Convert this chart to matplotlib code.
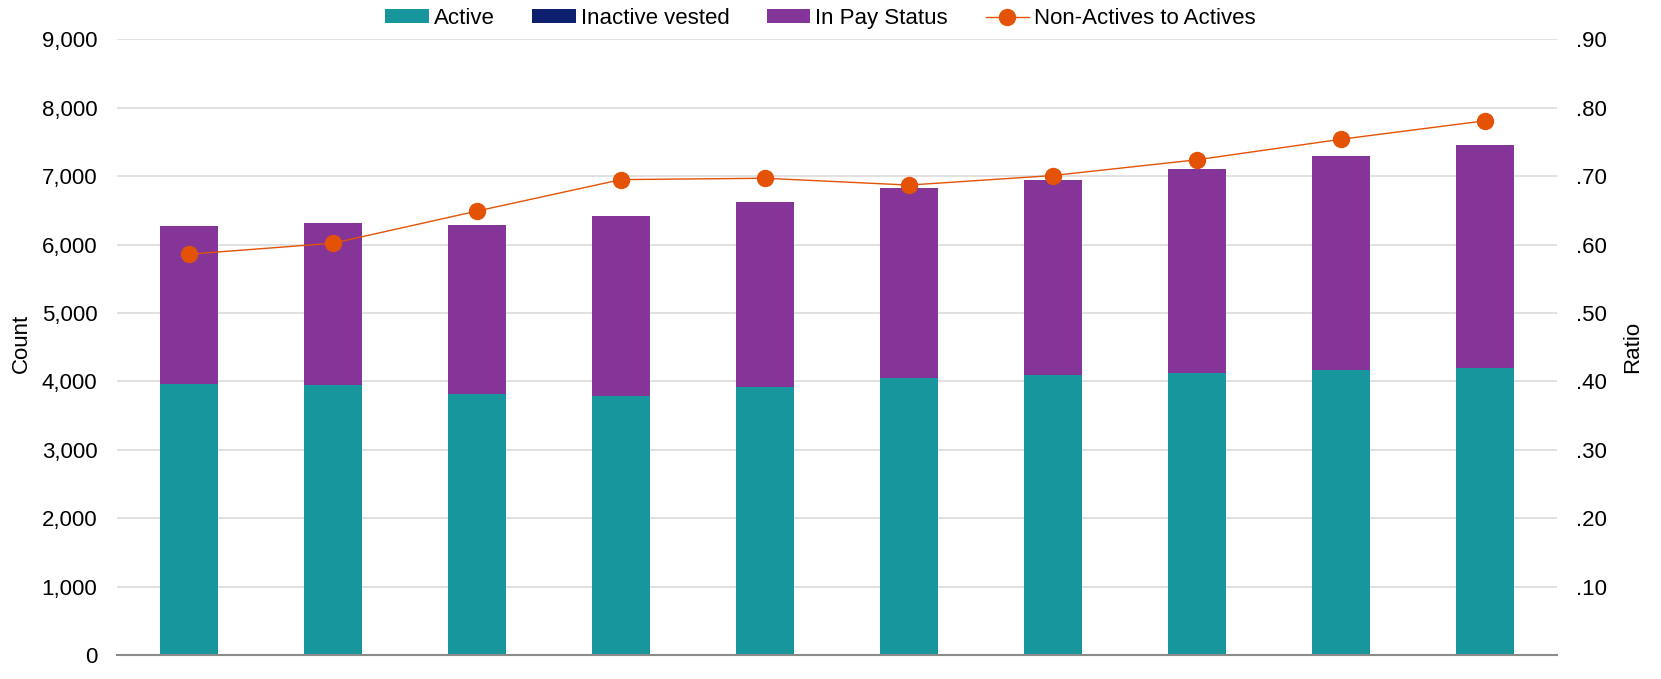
import matplotlib
matplotlib.use("Agg")
import matplotlib.pyplot as plt
from matplotlib.ticker import FuncFormatter, FixedLocator
from matplotlib.lines import Line2D
from matplotlib.patches import Patch

plt.rcParams['font.family'] = ['Liberation Sans', 'DejaVu Sans']

categories = [str(i) for i in range(1, 11)]
active = [3957, 3942, 3815, 3786, 3918, 4045, 4088, 4122, 4162, 4191]
inactive_vested = [0, 0, 0, 0, 0, 0, 0, 0, 0, 0]
in_pay = [2314, 2373, 2475, 2631, 2708, 2777, 2851, 2978, 3132, 3264]
ratio = [0.586, 0.602, 0.649, 0.695, 0.697, 0.687, 0.701, 0.724, 0.754, 0.781]

c_active = '#17979D'
c_inactive = '#0D1F6E'
c_pay = '#843597'
c_line = '#E35205'

fig = plt.figure(figsize=(16.61, 6.79), dpi=100)
ax = fig.add_axes([0.0704, 0.0353, 0.8670, 0.9067])
x = list(range(len(categories)))
w = 0.4
ax.bar(x, active, w, color=c_active, zorder=2)
b2 = [a for a in active]
ax.bar(x, inactive_vested, w, bottom=b2, color=c_inactive, zorder=2)
b3 = [a + i for a, i in zip(active, inactive_vested)]
ax.bar(x, in_pay, w, bottom=b3, color=c_pay, zorder=2)

ax.set_xlim(-0.5, len(categories) - 0.5)
ax.set_ylim(0, 9000)
ax.set_yticks(range(0, 9001, 1000))
ax.yaxis.set_major_formatter(FuncFormatter(lambda v, p: f"{int(v):,}"))
ax.set_xticks([])
ax.grid(axis='y', color='#DEDEDE', linewidth=1.3, zorder=0)
ax.set_axisbelow(True)
for s in ['top', 'right', 'left']:
    ax.spines[s].set_visible(False)
ax.spines['bottom'].set_color('#8C8C8C')
ax.spines['bottom'].set_linewidth(1.5)
ax.tick_params(axis='y', length=0, labelsize=16, pad=14, colors='#000000')

ax2 = ax.twinx()
ax2.plot(x, ratio, color=c_line, linewidth=1.0, marker='o', markersize=11.5, zorder=3)
ax2.set_ylim(0, 0.9)
ax2.yaxis.set_major_locator(FixedLocator([0.1 * i for i in range(1, 10)]))
ax2.yaxis.set_major_formatter(FuncFormatter(lambda v, p: f"{v:.2f}".lstrip('0')))
for s in ['top', 'right', 'left', 'bottom']:
    ax2.spines[s].set_visible(False)
ax2.tick_params(axis='y', length=0, labelsize=16, pad=14)

fig.text(0.0126, 0.4948, 'Count', rotation=90, ha='center', va='center', fontsize=16)
fig.text(0.9832, 0.489, 'Ratio', rotation=90, ha='center', va='center', fontsize=16)

handles = [
    Patch(facecolor=c_active, label='Active'),
    Patch(facecolor=c_inactive, label='Inactive vested'),
    Patch(facecolor=c_pay, label='In Pay Status'),
    Line2D([0], [0], color=c_line, linewidth=1.0, marker='o', markersize=11.5, label='Non-Actives to Actives'),
]
fig.legend(handles=handles, loc='center', bbox_to_anchor=(0.494, 0.973), ncol=4, frameon=False,
           fontsize=16, handlelength=1.95, handleheight=0.55, handletextpad=0.22, columnspacing=1.7)

fig.savefig('out.png', dpi=100)
